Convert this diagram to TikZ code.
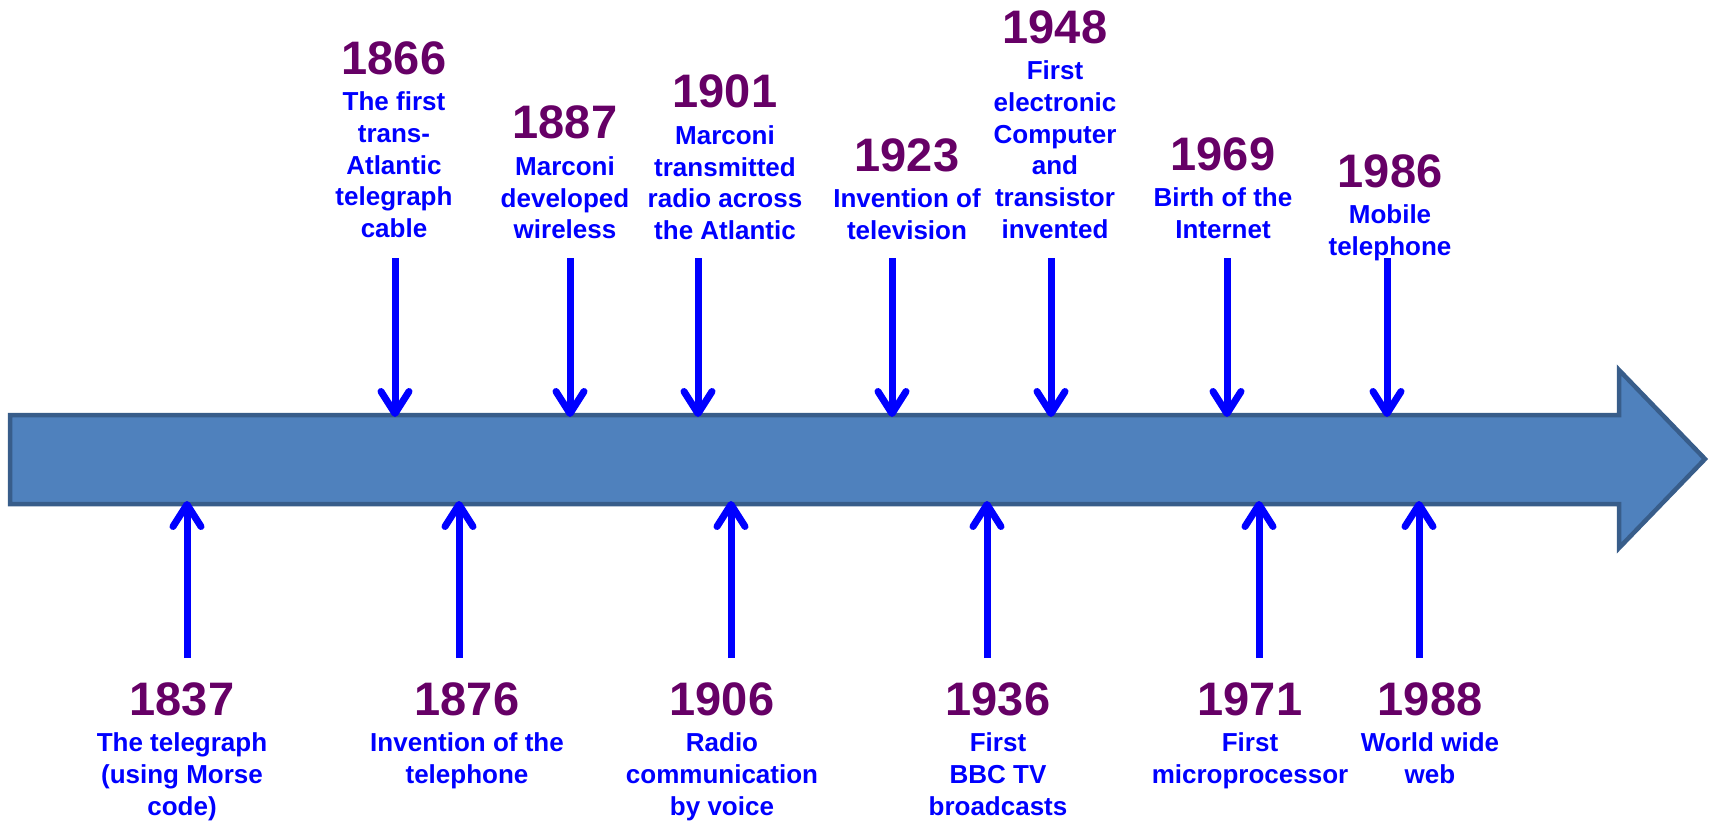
\documentclass[tikz,border=0pt]{standalone}
\usepackage{fontspec}
\setmainfont{Liberation Sans}
\definecolor{yearpurple}{RGB}{102,0,102}
\definecolor{eventblue}{RGB}{0,0,255}
\definecolor{axisfill}{RGB}{79,129,189}
\definecolor{axisdraw}{RGB}{56,93,138}
\usetikzlibrary{arrows.meta, positioning}
\tikzset{
  year/.style={inner sep=0pt, text=yearpurple, font=\fontsize{47}{52}\selectfont\bfseries},
  event/.style={inner sep=0pt, align=center, text=eventblue, font=\fontsize{26}{31.7}\selectfont\bfseries},
  axis/.style={fill=axisfill, draw=axisdraw, line width=4.5pt, line join=miter},
  arrow/.style={draw=eventblue, line width=7pt, -{Straight Barb[length=22pt, width=28pt, round]}}
}

\begin{document}
\begin{tikzpicture}[x=1pt, y=-1pt]
  \useasboundingbox (0,0) rectangle (1711,822);

  % Time axis
  \draw [axis] (10,415) -- (1619,415) -- (1619,370) -- (1705,459) -- (1619,548) -- (1619,504) -- (10,504) -- cycle;

  % Events above the axis
  \node (y1866) [year] at (394,58) {1866};
  \node (e1866) [event, below=17pt of y1866] {The first\\trans-\\Atlantic\\telegraph\\cable};
  \coordinate (s1866) at (395,258);
  \coordinate (t1866) at (395,417);
  \draw [arrow] (s1866) -- (t1866);

  \node (y1887) [year] at (565,122.5) {1887};
  \node (e1887) [event, below=17pt of y1887] {Marconi\\developed\\wireless};
  \coordinate (s1887) at (570,258);
  \coordinate (t1887) at (570,417);
  \draw [arrow] (s1887) -- (t1887);

  \node (y1901) [year] at (725,91.5) {1901};
  \node (e1901) [event, below=17pt of y1901] {Marconi\\transmitted\\radio across\\the Atlantic};
  \coordinate (s1901) at (698,258);
  \coordinate (t1901) at (698,417);
  \draw [arrow] (s1901) -- (t1901);

  \node (y1923) [year] at (907,155) {1923};
  \node (e1923) [event, below=17pt of y1923] {Invention of\\television};
  \coordinate (s1923) at (892,258);
  \coordinate (t1923) at (892,417);
  \draw [arrow] (s1923) -- (t1923);

  \node (y1948) [year] at (1055,27) {1948};
  \node (e1948) [event, below=17pt of y1948] {First\\electronic\\Computer\\and\\transistor\\invented};
  \coordinate (s1948) at (1051,258);
  \coordinate (t1948) at (1051,417);
  \draw [arrow] (s1948) -- (t1948);

  \node (y1969) [year] at (1223,154) {1969};
  \node (e1969) [event, below=17pt of y1969] {Birth of the\\Internet};
  \coordinate (s1969) at (1227,258);
  \coordinate (t1969) at (1227,417);
  \draw [arrow] (s1969) -- (t1969);

  \node (y1986) [year] at (1390,171) {1986};
  \node (e1986) [event, below=17pt of y1986] {Mobile\\telephone};
  \coordinate (s1986) at (1387,258);
  \coordinate (t1986) at (1387,417);
  \draw [arrow] (s1986) -- (t1986);

  % Events below the axis
  \node (y1837) [year] at (182,699) {1837};
  \node (e1837) [event, below=17pt of y1837] {The telegraph\\(using Morse\\code)};
  \coordinate (s1837) at (187,658);
  \coordinate (t1837) at (187,501);
  \draw [arrow] (s1837) -- (t1837);

  \node (y1876) [year] at (467,699) {1876};
  \node (e1876) [event, below=17pt of y1876] {Invention of the\\telephone};
  \coordinate (s1876) at (459,658);
  \coordinate (t1876) at (459,501);
  \draw [arrow] (s1876) -- (t1876);

  \node (y1906) [year] at (722,699) {1906};
  \node (e1906) [event, below=17pt of y1906] {Radio\\communication\\by voice};
  \coordinate (s1906) at (731,658);
  \coordinate (t1906) at (731,501);
  \draw [arrow] (s1906) -- (t1906);

  \node (y1936) [year] at (998,699) {1936};
  \node (e1936) [event, below=17pt of y1936] {First\\BBC TV\\broadcasts};
  \coordinate (s1936) at (987,658);
  \coordinate (t1936) at (987,501);
  \draw [arrow] (s1936) -- (t1936);

  \node (y1971) [year] at (1250,699) {1971};
  \node (e1971) [event, below=17pt of y1971] {First\\microprocessor};
  \coordinate (s1971) at (1259,658);
  \coordinate (t1971) at (1259,501);
  \draw [arrow] (s1971) -- (t1971);

  \node (y1988) [year] at (1430,699) {1988};
  \node (e1988) [event, below=17pt of y1988] {World wide\\web};
  \coordinate (s1988) at (1419,658);
  \coordinate (t1988) at (1419,501);
  \draw [arrow] (s1988) -- (t1988);

\end{tikzpicture}
\end{document}
